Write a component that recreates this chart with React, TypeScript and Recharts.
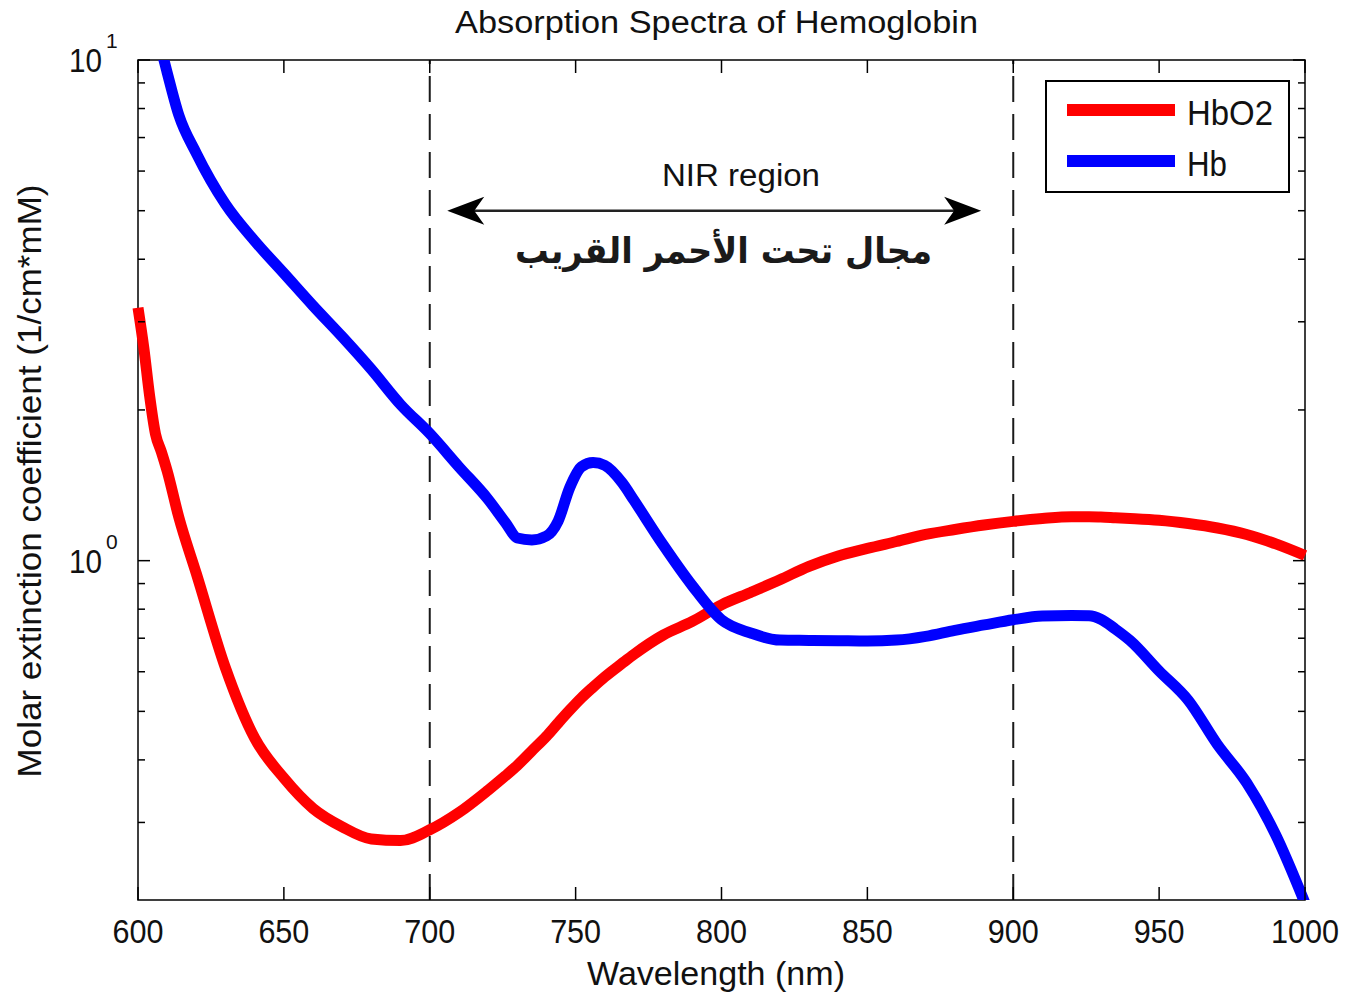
import React from 'react';
import { LineChart, Line, XAxis, YAxis, ReferenceLine, ReferenceArea, Customized } from 'recharts';

// ---------- data ----------
const wavelengths = [600, 602, 604, 606, 608, 610, 614, 620, 630, 640, 650, 660, 670, 680, 690, 700, 710, 720, 726, 730, 735, 740, 744, 748, 752, 756, 760, 766, 770, 780, 790, 800, 810, 820, 830, 840, 850, 860, 870, 880, 890, 900, 910, 920, 926, 930, 935, 940, 950, 960, 970, 980, 990, 1000];
const hbo2Values = [3.2, 2.66, 2.13, 1.79, 1.65, 1.51, 1.22, 0.942, 0.61, 0.442, 0.368, 0.32, 0.294, 0.278, 0.276, 0.29, 0.314, 0.348, 0.372, 0.39, 0.417, 0.446, 0.474, 0.503, 0.532, 0.559, 0.586, 0.624, 0.65, 0.71, 0.756, 0.816, 0.864, 0.916, 0.974, 1.022, 1.058, 1.092, 1.128, 1.154, 1.178, 1.198, 1.214, 1.224, 1.224, 1.222, 1.218, 1.214, 1.204, 1.186, 1.162, 1.128, 1.08, 1.024];
const hbValues = [14.68, 13.62, 12.57, 11.51, 10.48, 9.44, 7.76, 6.51, 5.15, 4.35, 3.75, 3.23, 2.8, 2.41, 2.05, 1.794, 1.54, 1.326, 1.19, 1.11, 1.1, 1.12, 1.2, 1.4, 1.54, 1.57, 1.55, 1.43, 1.32, 1.075, 0.891, 0.762, 0.717, 0.694, 0.693, 0.692, 0.691, 0.694, 0.706, 0.726, 0.744, 0.762, 0.775, 0.777, 0.776, 0.764, 0.73, 0.693, 0.602, 0.526, 0.429, 0.36, 0.283, 0.207];

const seriesNames = ['HbO2', 'Hb'];
const seriesColors = ['#ff0000', '#0000ff'];

const xTicks = [600, 650, 700, 750, 800, 850, 900, 950, 1000];
const yTicks = [0.3, 0.4, 0.5, 0.6, 0.7, 0.8, 0.9, 1, 2, 3, 4, 5, 6, 7, 8, 9, 10];
const yMajorTicks = [1, 10];
const yMajorExponents = ['0', '1'];
const nirBounds = [700, 900];
const arrowSpan = [706, 889];
const arrowLevel = 5;

const chartTitle = 'Absorption Spectra of Hemoglobin';
const xLabel = 'Wavelength (nm)';
const yLabel = 'Molar extinction coefficient (1/cm*mM)';
const nirLabel = 'NIR region';
const arabicLabel = 'مجال تحت الأحمر القريب';

const data = wavelengths.map((wl, i) => ({ wl, HbO2: hbo2Values[i], Hb: hbValues[i] }));

// ---------- layout ----------
const W = 1345;
const H = 999;
const PL = 138;
const PR = 1305;
const PT = 60;
const PB = 900;
const FONT = '"Liberation Sans", Arial, sans-serif';

const XTick = (props: any) => {
  const { x, payload } = props;
  const label = String(payload.value);
  return (
    <g>
      <line x1={x} x2={x} y1={PB} y2={PB - 13} stroke="#000" strokeWidth={1.5} />
      <line x1={x} x2={x} y1={PT} y2={PT + 13} stroke="#000" strokeWidth={1.5} />
      <text
        x={x}
        y={943}
        textAnchor="middle"
        fontSize={34}
        fontFamily={FONT}
        fill="#111"
        textLength={label.length * 17}
        lengthAdjust="spacingAndGlyphs"
      >
        {label}
      </text>
    </g>
  );
};

const YTick = (props: any) => {
  const { y, payload } = props;
  const v = payload.value;
  const mi = yMajorTicks.indexOf(v);
  const len = mi >= 0 ? 12 : 7;
  return (
    <g>
      <line x1={PL} x2={PL + len} y1={y} y2={y} stroke="#000" strokeWidth={1.5} />
      <line x1={PR} x2={PR - len} y1={y} y2={y} stroke="#000" strokeWidth={1.5} />
      {mi >= 0 && (
        <g fontFamily={FONT} fill="#111">
          <text x={102} y={y + 12} textAnchor="end" fontSize={33} textLength={33} lengthAdjust="spacingAndGlyphs">
            10
          </text>
          <text x={106} y={y - 12} textAnchor="start" fontSize={21}>
            {yMajorExponents[mi]}
          </text>
        </g>
      )}
    </g>
  );
};

const ArrowShape = (props: any) => {
  const { x1, y1, x2 } = props;
  const xa = Math.min(x1, x2);
  const xb = Math.max(x1, x2);
  const y = y1;
  return (
    <g>
      <line x1={xa + 20} x2={xb - 20} y1={y} y2={y} stroke="#222" strokeWidth={2.5} />
      <polygon points={`${xa},${y} ${xa + 37},${y - 14} ${xa + 27},${y} ${xa + 37},${y + 14}`} fill="#000" />
      <polygon points={`${xb},${y} ${xb - 37},${y - 14} ${xb - 27},${y} ${xb - 37},${y + 14}`} fill="#000" />
    </g>
  );
};

const Annotations = () => (
  <g fontFamily={FONT} fill="#111">
    <text x={716.5} y={33} textAnchor="middle" fontSize={31} textLength={523} lengthAdjust="spacingAndGlyphs">
      {chartTitle}
    </text>
    <text x={716} y={985} textAnchor="middle" fontSize={33} textLength={258} lengthAdjust="spacingAndGlyphs">
      {xLabel}
    </text>
    <text
      x={41}
      y={481}
      transform="rotate(-90 41 481)"
      textAnchor="middle"
      fontSize={33}
      textLength={593}
      lengthAdjust="spacingAndGlyphs"
    >
      {yLabel}
    </text>
    <text x={741} y={186} textAnchor="middle" fontSize={31} textLength={158} lengthAdjust="spacingAndGlyphs">
      {nirLabel}
    </text>
    <text
      x={723.5}
      y={263}
      textAnchor="middle"
      fontSize={36}
      fontWeight="bold"
      fontFamily='"DejaVu Sans", sans-serif'
      fill="#1a1a1a"
      direction="rtl"
      textLength={417}
      lengthAdjust="spacingAndGlyphs"
    >
      {arabicLabel}
    </text>
    {/* legend */}
    <rect x={1046} y={81} width={243} height={111} fill="#fff" stroke="#000" strokeWidth={2} />
    {seriesNames.map((name, i) => (
      <g key={name}>
        <line x1={1067} x2={1175} y1={110 + i * 51} y2={110 + i * 51} stroke={seriesColors[i]} strokeWidth={12} />
        <text
          x={1187}
          y={125 + i * 51}
          fontSize={35}
          textLength={name.length === 4 ? 86 : 40}
          lengthAdjust="spacingAndGlyphs"
        >
          {name}
        </text>
      </g>
    ))}
  </g>
);

export default function App() {
  return (
    <div style={{ position: 'absolute', left: 0, top: 0, width: W, height: H, background: '#fff' }}>
      <LineChart
        width={W}
        height={H}
        data={data}
        margin={{ top: PT, right: W - PR, left: PL - 100, bottom: H - PB - 60 }}
      >
        <XAxis
          dataKey="wl"
          type="number"
          domain={[600, 1000]}
          ticks={xTicks}
          interval={0}
          tickSize={0}
          tickMargin={0}
          axisLine={false}
          tickLine={false}
          height={60}
          tick={(p: any) => <XTick {...p} />}
        />
        <YAxis
          type="number"
          scale="log"
          domain={[0.21, 10]}
          allowDataOverflow
          ticks={yTicks}
          interval={0}
          tickSize={0}
          tickMargin={0}
          axisLine={false}
          tickLine={false}
          width={100}
          tick={(p: any) => <YTick {...p} />}
        />
        <ReferenceArea x1={600} x2={1000} y1={0.21} y2={10} fill="none" stroke="#000" strokeWidth={1.5} fillOpacity={0} />
        {nirBounds.map((b) => (
          <ReferenceLine key={b} x={b} stroke="#1a1a1a" strokeWidth={2} strokeDasharray="26 12" />
        ))}
        <ReferenceLine
          segment={[
            { x: arrowSpan[0], y: arrowLevel },
            { x: arrowSpan[1], y: arrowLevel },
          ]}
          shape={(p: any) => <ArrowShape {...p} />}
        />
        <Line
          type="monotone"
          dataKey="HbO2"
          stroke={seriesColors[0]}
          strokeWidth={11}
          dot={false}
          isAnimationActive={false}
          strokeLinejoin="round"
        />
        <Line
          type="monotone"
          dataKey="Hb"
          stroke={seriesColors[1]}
          strokeWidth={11}
          dot={false}
          isAnimationActive={false}
          strokeLinejoin="round"
        />
        <Customized component={<Annotations />} />
      </LineChart>
    </div>
  );
}
